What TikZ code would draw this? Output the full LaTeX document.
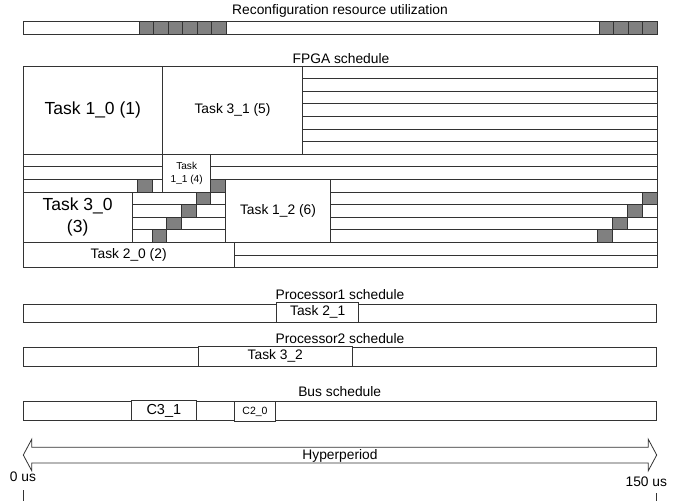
\documentclass[tikz,border=0pt]{standalone}
\usepackage{fontspec}
\setmainfont{Liberation Sans}
\begin{document}
\begin{tikzpicture}[x=1pt,y=-1pt,
  ln/.style={draw=black!80, line width=0.8pt},
  cell/.style={ln, fill=black!50},
  box/.style={ln, fill=white, rectangle, inner sep=0pt, outer sep=0pt, anchor=north west, align=center},
  lbl/.style={inner sep=0pt, anchor=base, font=\fontsize{13.8}{16}\selectfont},
  big/.style={font=\fontsize{17.5}{21.7}\selectfont},
  mid/.style={font=\fontsize{13.8}{16}\selectfont},
  small/.style={font=\fontsize{10.1}{12.6}\selectfont}]
\useasboundingbox (0,0) rectangle (690,501);

% ---- Reconfiguration resource utilization
\node[lbl] (ttop) at (340,14.5) {Reconfiguration resource utilization};
\draw[ln, fill=white] (23.3,21.5) rectangle (657,34);
\foreach \k in {0,...,5} {
  \draw[cell] (139.3+14.45*\k,21.5) rectangle (139.3+14.45*\k+14.45,34);
}
\foreach \k in {0,...,3} {
  \draw[cell] (599+14.5*\k,21.5) rectangle (599+14.5*\k+14.5,34);
}

% ---- FPGA schedule
\node[lbl] (tfpga) at (341,63.3) {FPGA schedule};
\foreach \i in {0,...,15} {
  \draw[ln, fill=white] (23,66+12.6*\i) rectangle (657,66+12.6*\i+12.6);
}
\node[box, big, minimum width=139.7pt, minimum height=88.2pt] (t10) at (23,66) {Task 1\_0 (1)};
\node[box, mid, minimum width=139.6pt, minimum height=88.2pt] (t31) at (162.7,66) {Task 3\_1 (5)};
\node[box, small, minimum width=48pt, minimum height=37.8pt] (t11) at (162.7,154.2) {Task\\1\_1 (4)};
\node[box, mid, minimum width=104.6pt, minimum height=63pt] (t12) at (225.7,179.4) {Task 1\_2 (6)};
\node[box, big, minimum width=109.3pt, minimum height=50.4pt] (t30) at (23,192) {Task 3\_0\\(3)};
\node[box, mid, minimum width=211.3pt, minimum height=25.2pt] (t20) at (23,242.4) {Task 2\_0 (2)};
% staircase cells
\draw[cell] (137.7,179.4) rectangle (152.25,192);
\draw[cell] (210.7,179.4) rectangle (225.7,192);
\draw[cell] (196,192) rectangle (210.7,204.6);
\draw[cell] (181.4,204.6) rectangle (196,217.2);
\draw[cell] (166.8,217.2) rectangle (181.4,229.8);
\draw[cell] (152.25,229.8) rectangle (166.8,242.4);
\draw[cell] (642,192) rectangle (657,204.6);
\draw[cell] (627,204.6) rectangle (642,217.2);
\draw[cell] (612,217.2) rectangle (627,229.8);
\draw[cell] (597,229.8) rectangle (612,242.4);

% ---- Processor1
\node[lbl] (tp1) at (340,299) {Processor1 schedule};
\draw[ln, fill=white] (23.3,304) rectangle (656.3,322.3);
\node[box, mid, minimum width=82pt, minimum height=20pt] (t21) at (276.7,302.3) {Task 2\_1};

% ---- Processor2
\node[lbl] (tp2) at (340,343.3) {Processor2 schedule};
\draw[ln, fill=white] (23.3,347.3) rectangle (656.3,366);
\node[box, mid, minimum width=154pt, minimum height=20pt] (t32) at (198.3,346) {Task 3\_2};

% ---- Bus
\node[lbl] (tbus) at (339.7,396.7) {Bus schedule};
\draw[ln, fill=white] (23.3,401.7) rectangle (656.3,420.7);
\node[box, font=\fontsize{14.5}{16}\selectfont, minimum width=65.7pt, minimum height=20.4pt] (c31) at (131,400.3) {C3\_1};
\node[box, font=\fontsize{10.5}{12}\selectfont, minimum width=40.6pt, minimum height=20pt] (c20) at (234.7,401.7) {C2\_0};

% ---- Hyperperiod arrow
\draw[ln, fill=white] (23.3,455) -- (31.7,439.3) -- (31.7,447.3) -- (648.3,447.3) -- (648.3,439.3)
  -- (656.7,455) -- (648.3,470.7) -- (648.3,463) -- (31.7,463) -- (31.7,470.7) -- cycle;
\node[lbl] (thyp) at (340,459.3) {Hyperperiod};
\node[lbl] (t0) at (23,481.7) {0 us};
\node[lbl] (t150) at (646.3,486) {150 us};
\coordinate (a0) at (23.3,490);
\coordinate (b0) at (23.3,501);
\coordinate (a1) at (656.3,493.3);
\coordinate (b1) at (656.3,501);
\draw[ln] (a0) -- (b0);
\draw[ln] (a1) -- (b1);
\end{tikzpicture}
\end{document}
